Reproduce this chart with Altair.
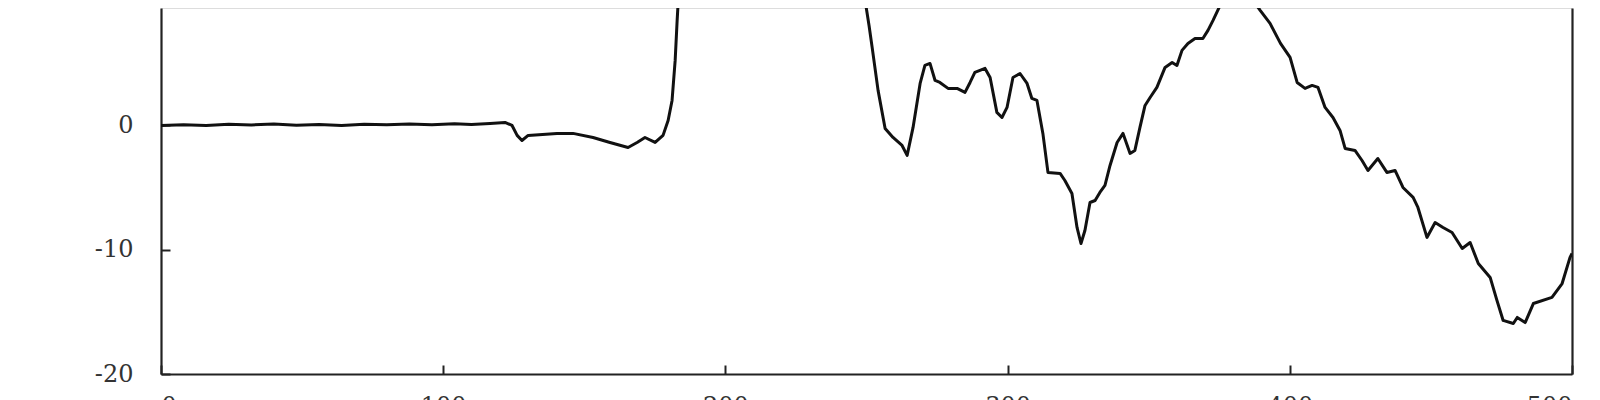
import altair as alt
import pandas as pd

# x positions (axis units, ticks every 100) and signal values
x_vals = [0, 8, 16, 24, 32, 40, 48, 56, 64, 72, 80, 88, 96, 104, 110, 116.6, 121.9, 124.4,
          126.2, 127.9, 130.1, 140.3, 146, 153.1, 159.1, 165.5, 168.7, 171.5, 175.1, 177.9,
          179.7, 181.1, 182.2, 182.9, 183.3, 184.3, 187.5, 215.8, 244, 248.4,
          249.5, 250.9, 252, 254.1, 256.6, 259.4, 262.6, 264.4, 266.5, 269, 270.7, 272.5, 274.3,
          276, 278.9, 282.1, 284.9, 286.7, 288.4, 292, 293.8, 296.2, 298, 299.8, 301.9, 304.4,
          306.9, 308.6, 310.4, 312.5, 314.3, 318.6, 320.3, 322.8, 324.6, 326, 327.4, 329.2, 331,
          332.7, 334.5, 336.3, 338.8, 340.9, 343.4, 345.1, 346.9, 348.7, 350.5, 352.9, 355.8,
          358.3, 360, 361.8, 363.9, 366.4, 369.2, 371, 372.8, 375.3, 376.3, 381.6, 387,
          389.5, 393, 396.7, 400.1, 402.6, 405.4, 407.9, 410, 412.5, 415.3, 417.8, 419.6, 423.1,
          425.6, 427.7, 431.2, 434.4, 437.3, 440.1, 443.7, 445.4, 448.6, 451.5, 454.3, 457.5,
          461.1, 463.9, 466.8, 471, 473.4, 475.6, 479.2, 480.6, 483.4, 486.3, 492.9, 496.5,
          499.3, 500]
y_vals = [0.0, 0.05, 0.0, 0.1, 0.04, 0.12, 0.02, 0.08, 0.0, 0.1, 0.05, 0.12, 0.06, 0.14, 0.08,
          0.16, 0.24, 0.0,
          -0.8, -1.21, -0.8, -0.64, -0.64, -0.97, -1.37, -1.77, -1.37, -0.97, -1.37, -0.8,
          0.4, 2.01, 5.23, 8.45, 10.06, 14, 17, 18, 16, 12,
          10.06, 8.05, 6.28, 2.82, -0.24, -0.97, -1.61, -2.41, -0.16, 3.38, 4.83, 4.99, 3.62,
          3.46, 2.98, 2.98, 2.66, 3.46, 4.27, 4.59, 3.86, 1.05, 0.64, 1.45, 3.86, 4.18,
          3.38, 2.17, 2.01, -0.64, -3.78, -3.86, -4.43, -5.47, -8.21, -9.5, -8.45, -6.2, -6.04,
          -5.39, -4.83, -3.22, -1.37, -0.64, -2.25, -2.01, -0.16, 1.61, 2.25, 3.06, 4.67,
          5.07, 4.83, 6.04, 6.6, 7.0, 7.0, 7.65, 8.45, 9.66, 10.06, 11.5, 10.06,
          9.26, 8.21, 6.6, 5.47, 3.46, 2.98, 3.22, 3.06, 1.45, 0.64, -0.4, -1.85, -2.01,
          -2.82, -3.62, -2.66, -3.78, -3.62, -4.99, -5.79, -6.6, -9.01, -7.81, -8.21, -8.61,
          -9.9, -9.42, -11.11, -12.23, -14.08, -15.69, -15.94, -15.45, -15.86, -14.33, -13.84,
          -12.72, -10.62, -10.3]

y_ticks = [-20, -10, 0, 10]
x_ticks = [0, 100, 200, 300, 400, 500]

df = pd.DataFrame({"x": x_vals, "y": y_vals})

W, H = 1411, 366
FONT = "DejaVu Serif"
AX = "#222222"

xscale = alt.Scale(domain=[0, 500], nice=False, zero=False)
yscale = alt.Scale(domain=[-20, 9.45], nice=False, zero=False)

main = alt.Chart(df).mark_line(color="#111111", strokeWidth=3, clip=True,
                               strokeJoin="round").encode(
    x=alt.X("x:Q", scale=xscale,
            axis=alt.Axis(orient="bottom", values=x_ticks, ticks=False, grid=False,
                          domainColor=AX, domainWidth=2.2, labelFont=FONT, labelFontSize=24,
                          labelColor="#333333", labelPadding=20, title=None)),
    y=alt.Y("y:Q", scale=yscale,
            axis=alt.Axis(orient="left", values=y_ticks, ticks=False, grid=False,
                          domainColor=AX, domainWidth=2.2, labelFont=FONT, labelFontSize=24,
                          labelColor="#333333", labelPadding=28,
                          labelExpr="datum.value + ''", title=None)),
)

ticks_layer = alt.Chart(df).mark_line(opacity=0, clip=True).encode(
    x=alt.X("x:Q", scale=xscale,
            axis=alt.Axis(orient="top", offset=-H, values=x_ticks, ticks=True, tickSize=9,
                          tickWidth=2, tickColor=AX, labels=False, domain=False, grid=False,
                          title=None)),
    y=alt.Y("y:Q", scale=yscale,
            axis=alt.Axis(orient="right", offset=-W, values=y_ticks, ticks=True, tickSize=9,
                          tickWidth=2, tickColor=AX, labels=False, domain=False, grid=False,
                          title=None)),
)

border_layer = alt.Chart(df).mark_line(opacity=0, clip=True).encode(
    x=alt.X("x:Q", scale=xscale, axis=None),
    y=alt.Y("y:Q", scale=yscale,
            axis=alt.Axis(orient="right", ticks=False, labels=False, grid=False,
                          domainColor=AX, domainWidth=2.2, title=None)),
)

chart = alt.layer(main, ticks_layer, border_layer).resolve_axis(
    x="independent", y="independent"
).properties(
    width=W, height=H,
    autosize=alt.AutoSizeParams(type="none"),
    padding={"left": 153, "top": 0, "right": 20, "bottom": 26},
).configure_view(stroke=None).configure(background="white")

chart.save("out.html", embed_options={"renderer": "svg", "actions": False})
